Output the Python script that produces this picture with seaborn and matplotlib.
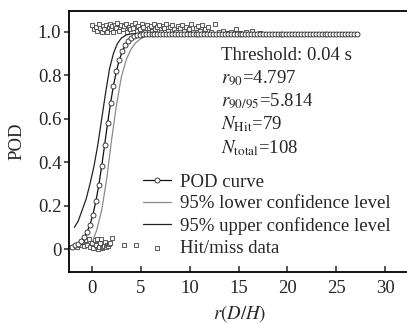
import matplotlib
matplotlib.use('Agg')
import numpy as np
import pandas as pd
import seaborn as sns
import matplotlib.pyplot as plt

# POD curve
pod_x = [-2.0, -1.7, -1.4, -1.1, -0.8, -0.5, -0.2, 0.1, 0.4, 0.7,
         1.0, 1.3, 1.6, 1.9, 2.2, 2.5, 2.8, 3.1, 3.4, 3.7,
         4.0, 4.3, 4.6, 4.9, 5.2, 5.5, 5.8, 6.1, 6.4, 6.7,
         7.0, 7.3, 7.6, 7.9, 8.2, 8.5, 8.8, 9.1, 9.4, 9.7,
         10.0, 10.3, 10.6, 10.9, 11.2, 11.5, 11.8, 12.1, 12.4, 12.7,
         13.0, 13.3, 13.6, 13.9, 14.2, 14.5, 14.8, 15.1, 15.4, 15.7,
         16.0, 16.3, 16.6, 16.9, 17.2, 17.5, 17.8, 18.1, 18.4, 18.7,
         19.0, 19.3, 19.6, 19.9, 20.2, 20.5, 20.8, 21.1, 21.4, 21.7,
         22.0, 22.3, 22.6, 22.9, 23.2, 23.5, 23.8, 24.1, 24.4, 24.7,
         25.0, 25.3, 25.6, 25.9, 26.2, 26.5, 26.8, 27.1]
pod_y = [0.012, 0.017, 0.026, 0.037, 0.055, 0.079, 0.113, 0.159, 0.220, 0.295,
         0.383, 0.480, 0.579, 0.671, 0.752, 0.818, 0.870, 0.909, 0.937, 0.956,
         0.970, 0.978, 0.983, 0.986, 0.988, 0.989, 0.990, 0.990, 0.990, 0.990,
         0.991, 0.991, 0.991, 0.991, 0.991, 0.991, 0.991, 0.991, 0.991, 0.991,
         0.991, 0.991, 0.991, 0.991, 0.991, 0.991, 0.991, 0.991, 0.991, 0.991,
         0.991, 0.991, 0.991, 0.991, 0.991, 0.991, 0.991, 0.991, 0.991, 0.991,
         0.991, 0.991, 0.991, 0.991, 0.991, 0.991, 0.991, 0.991, 0.991, 0.991,
         0.991, 0.991, 0.991, 0.991, 0.991, 0.991, 0.991, 0.991, 0.991, 0.991,
         0.991, 0.991, 0.991, 0.991, 0.991, 0.991, 0.991, 0.991, 0.991, 0.991,
         0.991, 0.991, 0.991, 0.991, 0.991, 0.991, 0.991, 0.991]

# 95% bounds
lower_x = [0.1, 0.5, 1.0, 1.5, 2.0, 2.5, 3.0, 3.5, 4.0, 4.5, 5.0, 5.5, 6.5, 8.0, 27.1]
lower_y = [0.04, 0.09, 0.18, 0.32, 0.50, 0.66, 0.79, 0.87, 0.92, 0.95, 0.968, 0.978, 0.986, 0.99, 0.992]
upper_x = [-1.8, -1.4, -1.0, -0.6, -0.2, 0.2, 0.6, 1.0, 1.4, 1.8, 2.2, 2.6, 3.0, 3.5, 4.0, 5.0, 6.0, 8.0, 27.1]
upper_y = [0.10, 0.13, 0.18, 0.23, 0.30, 0.38, 0.48, 0.60, 0.72, 0.83, 0.90, 0.945, 0.97, 0.985, 0.99, 0.993, 0.993, 0.993, 0.993]

# hit / miss observations
hit_x = [0.0, 0.2, 0.4, 0.5, 0.7, 0.8, 1.0, 1.1, 1.2, 1.4,
         1.5, 1.7, 1.8, 1.9, 2.1, 2.2, 2.4, 2.5, 2.6, 2.8,
         2.9, 3.0, 3.2, 3.3, 3.5, 3.6, 3.8, 3.9, 4.1, 4.2,
         4.4, 4.6, 4.7, 4.9, 5.1, 5.2, 5.4, 5.6, 5.8, 6.0,
         6.1, 6.3, 6.5, 6.7, 6.9, 7.1, 7.3, 7.4, 7.6, 7.8,
         8.0, 8.2, 8.4, 8.6, 8.8, 9.0, 9.2, 9.4, 9.6, 9.9,
         10.1, 10.3, 10.6, 10.9, 11.1, 11.3, 11.6, 11.9, 12.2, 12.6,
         13.0, 13.4, 13.8, 14.2, 14.7, 15.2, 15.8, 16.4, 17.2]
hit_y = [1.03, 1.01, 1.02, 1.005, 1.035, 1.015, 1.0, 1.025, 1.01, 1.03,
         1.0, 1.02, 1.035, 1.01, 1.025, 1.0, 1.03, 1.015, 1.04, 1.005,
         1.02, 1.03, 1.01, 1.025, 1.035, 1.0, 1.02, 1.01, 1.03, 1.015,
         1.04, 1.005, 1.025, 1.01, 1.035, 1.02, 1.0, 1.03, 1.015, 1.025,
         1.005, 1.035, 1.01, 1.02, 1.03, 1.0, 1.025, 1.015, 1.035, 1.005,
         1.02, 1.03, 1.01, 1.0, 1.025, 1.015, 1.03, 1.005, 1.02, 1.01,
         1.035, 1.0, 1.015, 1.025, 1.005, 1.03, 1.01, 1.02, 1.0, 1.035,
         1.0, 1.005, 0.995, 1.0, 1.01, 0.995, 1.0, 1.005, 0.995]
miss_x = [-1.5, -1.2, -1.0, -0.8, -0.6, -0.5, -0.3, -0.2, 0.0, 0.1,
          0.3, 0.4, 0.5, 0.6, 0.7, 0.8, 0.9, 1.0, 1.1, 1.2,
          1.3, 1.4, 1.5, 1.6, 1.7, 1.8, 2.0, 3.3, 4.5]
miss_y = [0.01, 0.02, 0.035, 0.015, 0.04, 0.02, 0.045, 0.01, 0.03, 0.005,
          0.04, 0.02, 0.045, 0.0, 0.01, 0.03, 0.045, 0.005, 0.01, 0.015,
          0.035, 0.01, 0.02, 0.015, 0.025, 0.03, 0.05, 0.02, 0.018]

yticks = [0, 0.2, 0.4, 0.6, 0.8, 1.0]
ytick_labels = ['0', '0.2', '0.4', '0.6', '0.8', '1.0']
xticks = [0, 5, 10, 15, 20, 25, 30]

info_lines = ['Threshold: 0.04 s', r'$r_{90}$=4.797', r'$r_{90/95}$=5.814',
              r'$N_{\mathrm{Hit}}$=79', r'$N_{\mathrm{total}}$=108']
legend_order = ['POD curve', '95% lower confidence level',
                '95% upper confidence level', 'Hit/miss data']

sns.set_style('ticks')
plt.rcParams['font.family'] = ['Liberation Serif', 'DejaVu Serif']
plt.rcParams['mathtext.fontset'] = 'stix'
fs = 13.5

fig = plt.figure(figsize=(4.07, 3.23), dpi=100)
ax = fig.add_axes([69 / 407, 51 / 323, 341 / 407, 261 / 323])

pts = pd.DataFrame({'x': hit_x + miss_x, 'y': hit_y + miss_y})
sns.scatterplot(data=pts, x='x', y='y', marker='s', s=5, color='#f4f4f4',
                edgecolor='#444444', linewidth=0.6, ax=ax, label='Hit/miss data', zorder=2)
sns.lineplot(x=lower_x, y=lower_y, color='#8a8a8a', lw=0.9, ax=ax,
             label='95% lower confidence level', zorder=3)
sns.lineplot(x=upper_x, y=upper_y, color='#222222', lw=0.9, ax=ax,
             label='95% upper confidence level', zorder=3)
sns.lineplot(x=pod_x, y=pod_y, color='#111111', lw=0.9, marker='o', markersize=3.6,
             markerfacecolor='white', markeredgecolor='#222222', markeredgewidth=0.6,
             ax=ax, label='POD curve', zorder=4)

ax.set_xlim(-2.35, 32.55)
ax.set_ylim(-0.105, 1.095)
ax.set_xticks(xticks)
ax.set_yticks(yticks)
ax.set_yticklabels(ytick_labels)
ax.tick_params(axis='x', direction='in', length=4, width=1.1, labelsize=fs, pad=6)
ax.tick_params(axis='y', direction='out', length=3.5, width=1.1, labelsize=fs, pad=2)
for side in ['left', 'bottom', 'top']:
    ax.spines[side].set_linewidth(1.3)
    ax.spines[side].set_color('black')
ax.spines['right'].set_visible(False)

ax.set_xlabel(r'$r(D/H)$', fontsize=fs, labelpad=4)
ax.set_ylabel('POD', fontsize=fs, labelpad=9)

for i, t in enumerate(info_lines):
    ax.text((221 - 69) / 341, 0.812 - i * 0.089, t, transform=ax.transAxes,
            fontsize=fs, va='baseline', ha='left')

handles, labels = ax.get_legend_handles_labels()
hmap = dict(zip(labels, handles))
ax.legend([hmap[l] for l in legend_order], legend_order, loc='center left',
          bbox_to_anchor=((143 - 69) / 341, 0.218), frameon=False, borderpad=0,
          borderaxespad=0, handlelength=1.5, handletextpad=0.45, labelspacing=0.25,
          fontsize=fs)

fig.savefig('out.png', dpi=100)
